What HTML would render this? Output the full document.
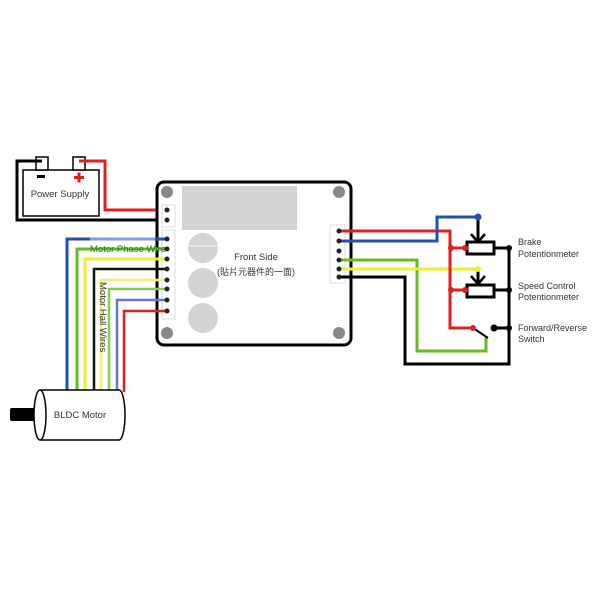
<!DOCTYPE html>
<html><head><meta charset="utf-8"><style>html,body{margin:0;padding:0;background:#fff}svg{display:block}</style></head>
<body>
<svg width="600" height="600" viewBox="0 0 600 600" xmlns="http://www.w3.org/2000/svg" font-family="Liberation Sans, Noto Sans CJK TC, sans-serif">
<rect width="600" height="600" fill="#fff"/>
<!-- battery -->
<rect x="23" y="170" width="76" height="46" fill="#fff" stroke="#000" stroke-width="1.5"/>
<rect x="36" y="157" width="12" height="13" fill="#fff" stroke="#000" stroke-width="1.5"/>
<rect x="73" y="157" width="12" height="13" fill="#fff" stroke="#000" stroke-width="1.5"/>
<rect x="37" y="175" width="8" height="3" fill="#000"/>
<rect x="74" y="176" width="10" height="3" fill="#e02020"/>
<rect x="77.5" y="172.5" width="3" height="10" fill="#e02020"/>
<text x="60" y="197" font-size="9.5" text-anchor="middle" fill="#333">Power Supply</text>
<polyline points="42,161 17,161 17,220 167,220" fill="none" stroke="#000" stroke-width="3"/>
<polyline points="79,161 105,161 105,210 167,210" fill="none" stroke="#e02020" stroke-width="3"/>
<!-- board -->
<rect x="157" y="182" width="194" height="163" rx="7" fill="#fff" stroke="#000" stroke-width="3"/>
<rect x="182" y="186" width="115" height="44" fill="#d3d3d3"/>
<circle cx="203" cy="248" r="15" fill="#d3d3d3"/>
<circle cx="203" cy="283" r="15" fill="#d3d3d3"/>
<circle cx="203" cy="318" r="15" fill="#d3d3d3"/>
<line x1="188" y1="246" x2="218" y2="246" stroke="#fff" stroke-width="0.8"/>
<g fill="#888"><circle cx="167" cy="192" r="6"/><circle cx="339" cy="192" r="6"/><circle cx="167" cy="333" r="6"/><circle cx="339" cy="333" r="6"/></g>
<rect x="162" y="205" width="13" height="22" fill="#fff" stroke="#ddd"/>
<rect x="162" y="230" width="13" height="89" fill="#fff" stroke="#ddd"/>
<rect x="330" y="225" width="15" height="58" fill="#fff" stroke="#ddd"/>
<text x="256" y="260" font-size="9.5" text-anchor="middle" fill="#333">Front Side</text>
<text x="256" y="275" font-size="9" text-anchor="middle" fill="#333">(貼片元器件的一面)</text>
<!-- motor wires -->
<g fill="none" stroke-width="3">
<polyline points="67,390 67,239 167,239" stroke="#2050b0"/>
<line x1="90" y1="239" x2="155" y2="239" stroke="#8899dd"/>
<polyline points="77,390 77,249 167,249" stroke="#66bb22"/>
<polyline points="85,390 85,259 167,259" stroke="#eeee33"/>
<polyline points="94,390 94,269 167,269" stroke="#111" stroke-width="2.5"/>
<polyline points="101,390 101,280 167,280" stroke="#f0f070" stroke-width="2.5"/>
<polyline points="109,390 109,289 167,289" stroke="#88cc55" stroke-width="2.5"/>
<polyline points="117,390 117,300 167,300" stroke="#6677cc" stroke-width="2.5"/>
<polyline points="124,392 124,311 167,311" stroke="#e02020" stroke-width="2.5"/>
</g>
<text x="90" y="252" font-size="9.5" fill="#228811">Motor  Phase Wire</text>
<text transform="translate(100,282) rotate(90)" font-size="9.5" fill="#333">Motor Hall Wires</text>
<g fill="#222"><circle cx="167" cy="210" r="2.5"/><circle cx="167" cy="220" r="2.5"/><circle cx="167" cy="239" r="2.5"/><circle cx="167" cy="249" r="2.5"/><circle cx="167" cy="259" r="2.5"/><circle cx="167" cy="269" r="2.5"/><circle cx="167" cy="280" r="2.5"/><circle cx="167" cy="289" r="2.5"/><circle cx="167" cy="300" r="2.5"/><circle cx="167" cy="311" r="2.5"/></g>
<!-- motor -->
<rect x="10" y="408" width="28" height="13" rx="2" fill="#000"/>
<path d="M40,390 L119,390 A6,25 0 0 1 119,440 L40,440" fill="#fff" stroke="#000" stroke-width="1.5"/>
<ellipse cx="40" cy="415" rx="6" ry="25" fill="#fff" stroke="#000" stroke-width="1.5"/>
<text x="80" y="418" font-size="9.5" text-anchor="middle" fill="#333">BLDC Motor</text>
<!-- right wiring -->
<g fill="none" stroke-width="3">
<polyline points="339,277 405,277 405,364 509,364 509,248 494,248" stroke="#000"/>
<line x1="494" y1="290" x2="509" y2="290" stroke="#000"/>
<polyline points="494,328 509,328" stroke="#000"/>
<polyline points="339,260 417,260 417,351 486,351 486,337" stroke="#66bb22"/>
<polyline points="339,269 478,269" stroke="#eeee33"/>
<polyline points="339,231 450,231 450,328 473,328" stroke="#e02020"/>
<line x1="450" y1="248" x2="467" y2="248" stroke="#e02020"/>
<line x1="450" y1="290" x2="467" y2="290" stroke="#e02020"/>
<polyline points="339,241 437,241 437,217 478,217 478,241" stroke="#2050b0"/>
<line x1="478" y1="217" x2="478" y2="240" stroke="#000"/>
<line x1="478" y1="269" x2="478" y2="283" stroke="#000"/>
<line x1="473" y1="328" x2="488" y2="338" stroke="#000" stroke-width="2"/>
</g>
<path d="M471,234 L478,242 L485,234" fill="none" stroke="#000" stroke-width="2.5"/>
<path d="M471,276 L478,284 L485,276" fill="none" stroke="#000" stroke-width="2.5"/>
<rect x="467" y="242" width="27" height="12" fill="#fff" stroke="#000" stroke-width="3"/>
<rect x="467" y="285" width="27" height="12" fill="#fff" stroke="#000" stroke-width="3"/>
<g fill="#e02020"><circle cx="451" cy="248" r="3"/><circle cx="465" cy="248" r="3"/><circle cx="451" cy="290" r="3"/><circle cx="465" cy="290" r="3"/><circle cx="473" cy="328" r="3"/></g>
<g fill="#000"><circle cx="509" cy="248" r="3"/><circle cx="509" cy="290" r="3"/><circle cx="509" cy="328" r="3"/><circle cx="494" cy="328" r="3.5"/></g>
<circle cx="478" cy="217" r="3.5" fill="#2050b0"/>
<circle cx="478" cy="269" r="3" fill="#eeee33"/>
<g fill="#222"><circle cx="339" cy="231" r="2.5"/><circle cx="339" cy="241" r="2.5"/><circle cx="339" cy="251" r="2.5"/><circle cx="339" cy="260" r="2.5"/><circle cx="339" cy="269" r="2.5"/><circle cx="339" cy="277" r="2.5"/></g>
<g font-size="9" fill="#333">
<text x="518" y="245">Brake</text><text x="518" y="257">Potentionmeter</text>
<text x="518" y="289">Speed Control</text><text x="518" y="300">Potentionmeter</text>
<text x="518" y="331">Forward/Reverse</text><text x="518" y="342">Switch</text>
</g>
</svg>
</body></html>
